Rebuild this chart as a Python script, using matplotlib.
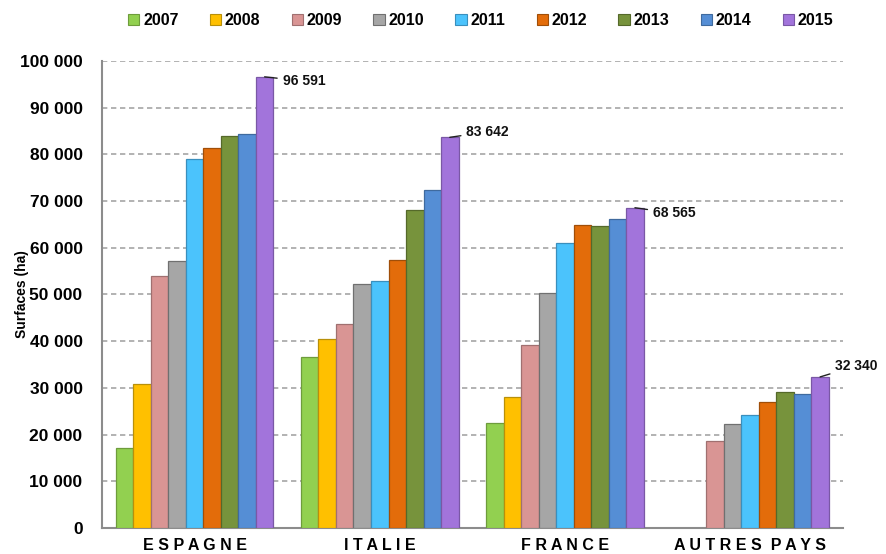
import numpy as np
import matplotlib
matplotlib.use("Agg")
import matplotlib.pyplot as plt
from matplotlib.patches import Patch
from matplotlib.ticker import FuncFormatter

plt.rcParams["font.family"] = ["Liberation Sans", "DejaVu Sans"]

# ---------------------------------------------------------------------------
# Data (surfaces in ha)
# ---------------------------------------------------------------------------
countries = ["E S P A G N E", "I T A L I E", "F R A N C E", "A U T R E S  P A Y S"]
years = ["2007", "2008", "2009", "2010", "2011", "2012", "2013", "2014", "2015"]

espagne = [17100, 30800, 54000, 57200, 79000, 81300, 83900, 84400, 96591]
italie = [36600, 40400, 43600, 52200, 52800, 57300, 68000, 72300, 83642]
france = [22400, 28100, 39100, 50300, 61000, 64800, 64600, 66200, 68565]
autres = [np.nan, np.nan, 18600, 22200, 24100, 26900, 29100, 28700, 32340]

colors = ["#92D050", "#FFC000", "#D99594", "#A6A6A6", "#4BC3FC",
          "#E36C0A", "#77933C", "#558ED5", "#A274DB"]
edges = ["#6E9C3C", "#B8900A", "#A07070", "#707070", "#3A8FBD",
         "#A04E08", "#55692A", "#3F6A9E", "#7A58A5"]

# label offsets (points) for the 2015 values
label_offsets = [(13, -3), (12, 4), (13, -4), (11, 8)]

values = np.array([espagne, italie, france, autres], dtype=float)

fig = plt.figure(figsize=(8.87, 5.54), dpi=100)
ax = fig.add_axes([0.115, 0.047, 0.835, 0.843])

x = np.arange(len(countries))
n = len(years)
width = 0.851 / n

for j, year in enumerate(years):
    xs = x - 0.851 / 2 + width * (j + 0.5)
    ax.bar(xs, values[:, j], width=width, color=colors[j], edgecolor=edges[j],
           linewidth=0.9, zorder=3)

# value labels on the last year, with a short leader line
for i in range(len(countries)):
    xb = x[i] - 0.851 / 2 + width * (n - 0.5)
    v = values[i, -1]
    ax.annotate(f"{int(v):,}".replace(",", " "),
                xy=(xb, v), xytext=label_offsets[i],
                textcoords="offset points", ha="left", va="center",
                fontsize=10, fontweight="bold", color="#111111", zorder=5,
                arrowprops=dict(arrowstyle="-", color="#222222", lw=1.0,
                                shrinkA=2, shrinkB=0))

ax.set_xlim(-0.5, len(countries) - 0.5)
ax.set_ylim(0, 100000)
ax.set_yticks(np.arange(0, 100001, 10000))
ax.yaxis.set_major_formatter(FuncFormatter(lambda v, p: f"{int(v):,}".replace(",", " ")))
ax.set_xticks(x)
ax.set_xticklabels(countries, fontsize=11.5, fontweight="bold")
ax.tick_params(axis="both", length=0)
ax.tick_params(axis="y", labelsize=12.5, pad=14)
for lab in ax.get_yticklabels():
    lab.set_fontweight("bold")
ax.tick_params(axis="x", pad=7)

ax.grid(axis="y", color="#A6A6A6", linestyle=(0, (3.2, 2.2)), linewidth=1.2, zorder=0)
for s in ["top", "right"]:
    ax.spines[s].set_visible(False)
for s in ["left", "bottom"]:
    ax.spines[s].set_color("#8C8C8C")
    ax.spines[s].set_linewidth(1.5)

ax.set_ylabel("Surfaces (ha)", fontsize=10, fontweight="bold")
ax.yaxis.set_label_coords(-0.098, 0.5)

handles = [Patch(facecolor=c, edgecolor=e, linewidth=0.8) for c, e in zip(colors, edges)]
fig.legend(handles, years, loc="center", bbox_to_anchor=(0.542, 0.963), ncol=n,
           frameon=False, handlelength=0.7, handleheight=0.7, handletextpad=0.25,
           columnspacing=1.95, prop={"size": 11.5, "weight": "bold"})

fig.savefig("out.png", dpi=100)
